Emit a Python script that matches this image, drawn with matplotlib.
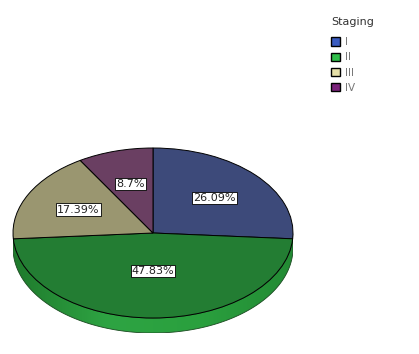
import numpy as np
import matplotlib
matplotlib.use("Agg")
import matplotlib.pyplot as plt
import matplotlib.patches as mpatches

# Staging counts (n = 23)
stages = ["I", "II", "III", "IV"]
counts = [6, 11, 4, 2]
pie_colors = ["#3d4a7a", "#237d33", "#9a9670", "#6a3f62"]
legend_colors = ["#3a5cc0", "#2fbe4a", "#e6e0a8", "#7b237b"]

W, H = 419, 354
fig = plt.figure(figsize=(W / 100.0, H / 100.0), dpi=100)
fig.patch.set_facecolor("white")

# pie box in pixels: ellipse left 13, right 293, top 148, bottom 318; depth 15
depth = 15 / 85.0
ax = fig.add_axes([13 / W, (H - 333) / H, 280 / W, 185 / H])
ax.set_axis_off()

# side of the "3d" disc, drawn first
theta = np.linspace(np.pi, 2 * np.pi, 200)
top = np.column_stack([np.cos(theta), np.sin(theta)])
bot = np.column_stack([np.cos(theta[::-1]), np.sin(theta[::-1]) - depth])
side = mpatches.Polygon(np.vstack([top, bot]), closed=True, facecolor="none",
                        edgecolor="#1a4a20", linewidth=0.6)
ax.add_patch(side)
grad = np.linspace(0, 1, 256).reshape(1, -1)
cmap = matplotlib.colors.LinearSegmentedColormap.from_list(
    "side", ["#1f7a2c", "#2ea443", "#2aa03e", "#238a34"])
im = ax.imshow(grad, cmap=cmap, aspect="auto", extent=(-1, 1, -1 - depth, 0),
               zorder=0.5)
im.set_clip_path(side)

wedges, texts, autotexts = ax.pie(
    counts, colors=pie_colors, startangle=90, counterclock=False,
    autopct=lambda p: ("%.2f" % p).rstrip("0").rstrip(".") + "%",
    pctdistance=0.6,
    wedgeprops=dict(edgecolor="black", linewidth=0.7),
    textprops=dict(fontsize=8, family=["Liberation Sans Narrow", "DejaVu Sans"],
                   color="#222222"))
for t in autotexts:
    t.set_bbox(dict(boxstyle="square,pad=0.1", facecolor="white",
                    edgecolor="black", linewidth=0.6))
# green label sits a bit higher in the original
x, y = autotexts[1].get_position()
autotexts[1].set_position((x, y * 0.75))

ax.set_aspect("auto")
ax.set_xlim(-1, 1)
ax.set_ylim(-1 - depth, 1)

handles = [mpatches.Patch(facecolor=c, edgecolor="black", linewidth=1.0, label=s)
           for s, c in zip(stages, legend_colors)]
leg = fig.legend(handles=handles, title="Staging", loc="upper left",
                 bbox_to_anchor=(322 / W, 1 - 8 / H), frameon=False,
                 fontsize=7.5, title_fontsize=8, handlelength=0.85,
                 handleheight=0.85, handletextpad=0.5, labelspacing=0.5,
                 alignment="left", labelcolor="#777777")
leg.get_title().set_color("#333333")
leg._legend_box.sep = 7

fig.savefig("out.png", dpi=100, facecolor="white")
